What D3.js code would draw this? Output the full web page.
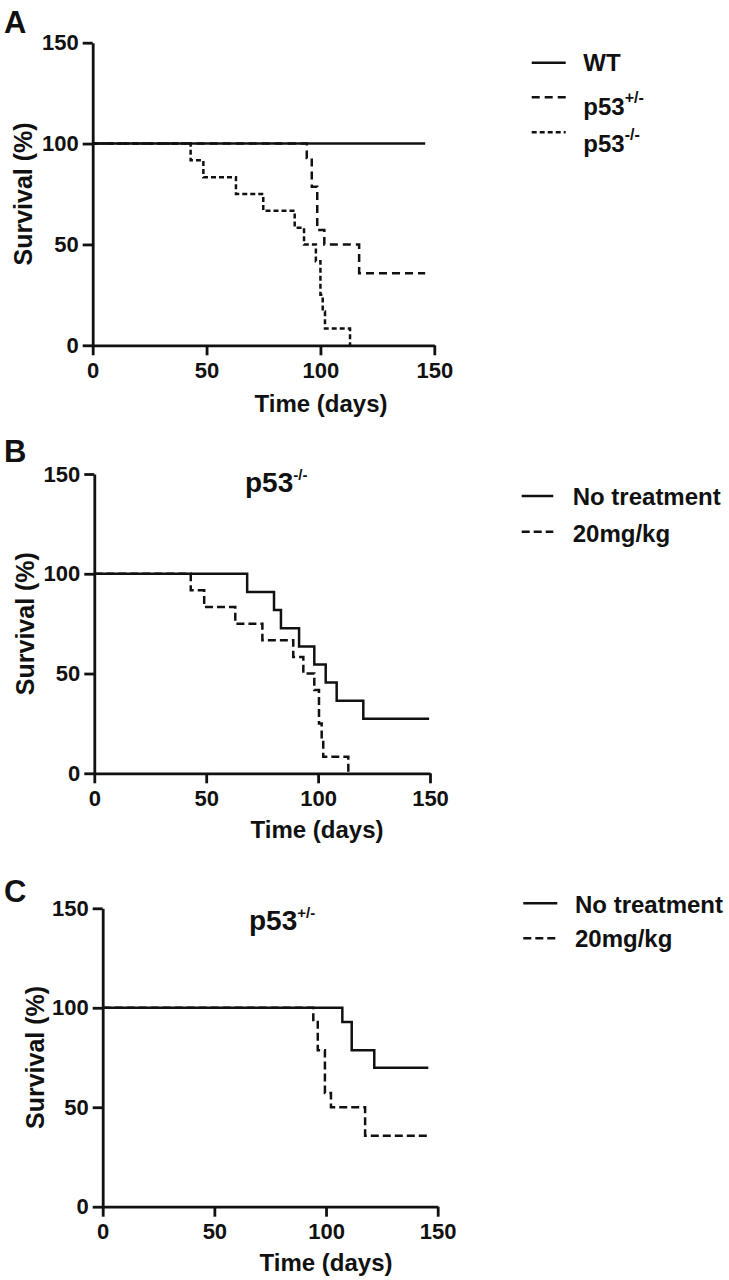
<!DOCTYPE html>
<html>
<head>
<meta charset="utf-8">
<script src="https://cdn.jsdelivr.net/npm/d3@7"></script>
<style>
  body { margin: 0; background: #fff; }
  svg text { font-family: "Liberation Sans", Arial, sans-serif; font-weight: bold; fill: #111; }
</style>
</head>
<body>
<svg id="chart" width="729" height="1280"></svg>
<script>
// ---- data (days, survival %) ----
var xTicks = [0, 50, 100, 150];
var yTicks = [0, 50, 100, 150];

// panel A
var aWtTimes = [0, 146];
var aWtSurv = [100, 100];
var aHetTimes = [0, 94, 96.2, 98.6, 101.7, 117, 146];
var aHetSurv = [100, 92.9, 78.6, 57.1, 50, 35.7, 35.7];
var aKoTimes = [0, 43, 48.6, 62.9, 74.9, 88.7, 92.8, 98, 100, 101, 102, 113];
var aKoSurv = [100, 91.7, 83.3, 75, 66.7, 58.3, 50, 41.7, 25, 16.7, 8.3, 0];

// panel B (p53-/-)
var bCtrlTimes = [0, 68.3, 80.3, 83.4, 91.5, 98.3, 103.4, 108.3, 120.2, 149.6];
var bCtrlSurv = [100, 90.9, 81.8, 72.7, 63.6, 54.5, 45.5, 36.4, 27.3, 27.3];
var bDrugTimes = [0, 43.1, 49.1, 63, 75.1, 88.9, 93.4, 98.3, 100.4, 101.6, 102.3, 113.5];
var bDrugSurv = [100, 91.7, 83.3, 75, 66.7, 58.3, 50, 41.7, 25, 16.7, 8.3, 0];

// panel C (p53+/-)
var cCtrlTimes = [0, 107.3, 111.5, 121.6, 145.8];
var cCtrlSurv = [100, 92.9, 78.6, 69.9, 69.9];
var cDrugTimes = [0, 94.3, 96.3, 99.5, 102.2, 117.5, 145.8];
var cDrugSurv = [100, 92.9, 78.6, 57.1, 50, 35.7, 35.7];

function zipSteps(times, surv) {
  return times.map(function(t, i) { return { t: t, s: surv[i] }; });
}

var panels = [
  {
    letter: "A", letterY: 33,
    x0: 92.7, x1: 434.3, yTop: 42.7, yBot: 345.3,
    yLabelX: 32, xLabelX: 321, xLabelY: 412,
    series: [
      { data: zipSteps(aWtTimes, aWtSurv), dash: null },
      { data: zipSteps(aHetTimes, aHetSurv), dash: "8,5" },
      { data: zipSteps(aKoTimes, aKoSurv), dash: "5,3" }
    ],
    legend: { x1: 531.7, x2: 565.7, tx: 583.3, rows: [
      { y: 62.7, base: 71, text: "WT", dash: null },
      { y: 97.3, base: 115, text: "p53", sup: "+/-", dash: "8,5" },
      { y: 132.3, base: 151.7, text: "p53", sup: "-/-", dash: "5,3" }
    ] }
  },
  {
    letter: "B", letterY: 462,
    x0: 94.3, x1: 430, yTop: 474, yBot: 773.3,
    yLabelX: 34, xLabelX: 317, xLabelY: 838,
    title: { x: 245, y: 491.7, text: "p53", sup: "-/-" },
    series: [
      { data: zipSteps(bCtrlTimes, bCtrlSurv), dash: null },
      { data: zipSteps(bDrugTimes, bDrugSurv), dash: "8,4" }
    ],
    legend: { x1: 521.7, x2: 553.3, tx: 572.7, rows: [
      { y: 496, base: 505, text: "No treatment", dash: null },
      { y: 531.7, base: 541.7, text: "20mg/kg", dash: "8,4" }
    ] }
  },
  {
    letter: "C", letterY: 902,
    x0: 102.7, x1: 437.7, yTop: 908.3, yBot: 1206.7,
    yLabelX: 44, xLabelX: 326, xLabelY: 1271,
    title: { x: 249, y: 930, text: "p53", sup: "+/-" },
    series: [
      { data: zipSteps(cCtrlTimes, cCtrlSurv), dash: null },
      { data: zipSteps(cDrugTimes, cDrugSurv), dash: "8,4" }
    ],
    legend: { x1: 523.3, x2: 557.3, tx: 575, rows: [
      { y: 903.3, base: 913.3, text: "No treatment", dash: null },
      { y: 938.3, base: 947, text: "20mg/kg", dash: "8,4" }
    ] }
  }
];

var svg = d3.select("#chart");

function addSupText(sel, x, y, size, text, sup, supSize, supDy) {
  var t = sel.append("text").attr("x", x).attr("y", y).style("font-size", size + "px");
  t.append("tspan").text(text);
  if (sup) {
    t.append("tspan").attr("dy", -supDy).style("font-size", supSize + "px").text(sup);
  }
  return t;
}

panels.forEach(function(p) {
  var x = d3.scaleLinear().domain([0, 150]).range([p.x0, p.x1]);
  var y = d3.scaleLinear().domain([0, 150]).range([p.yBot, p.yTop]);
  var g = svg.append("g");

  // panel letter
  g.append("text").attr("x", 4).attr("y", p.letterY)
    .style("font-size", "31px").text(p.letter);

  var xAxis = g.append("g")
    .attr("transform", "translate(0," + p.yBot + ")")
    .call(d3.axisBottom(x).tickValues(xTicks).tickSize(10).tickSizeOuter(0).tickPadding(7));
  var yAxis = g.append("g")
    .attr("transform", "translate(" + p.x0 + ",0)")
    .call(d3.axisLeft(y).tickValues(yTicks).tickSize(10).tickSizeOuter(0).tickPadding(4));

  [xAxis, yAxis].forEach(function(a) {
    a.attr("font-family", null).attr("font-size", null);
    a.select(".domain").attr("stroke", "#111").attr("stroke-width", 2.8);
    a.selectAll(".tick line").attr("stroke", "#111").attr("stroke-width", 2.8);
    a.selectAll(".tick text").style("font-size", "22px").attr("fill", "#111");
  });

  // axis titles
  g.append("text")
    .attr("transform", "translate(" + p.yLabelX + "," + ((p.yTop + p.yBot) / 2) + ") rotate(-90)")
    .attr("text-anchor", "middle")
    .style("font-size", "25px")
    .text("Survival (%)");
  g.append("text")
    .attr("x", p.xLabelX).attr("y", p.xLabelY)
    .attr("text-anchor", "middle")
    .style("font-size", "24px")
    .text("Time (days)");

  if (p.title) {
    addSupText(g, p.title.x, p.title.y, 28, p.title.text, p.title.sup, 15, 12);
  }

  var line = d3.line()
    .x(function(d) { return x(d.t); })
    .y(function(d) { return y(d.s); })
    .curve(d3.curveStepAfter);

  // dashed curves first, solid one on top so the shared 100% stretch stays solid
  p.series.slice().reverse().forEach(function(s) {
    g.append("path")
      .datum(s.data)
      .attr("d", line)
      .attr("fill", "none")
      .attr("stroke", "#111")
      .attr("stroke-width", 2.5)
      .attr("stroke-dasharray", s.dash);
  });

  // legend
  p.legend.rows.forEach(function(r) {
    g.append("line")
      .attr("x1", p.legend.x1).attr("x2", p.legend.x2)
      .attr("y1", r.y).attr("y2", r.y)
      .attr("stroke", "#111")
      .attr("stroke-width", 2.4)
      .attr("stroke-dasharray", r.dash);
    addSupText(g, p.legend.tx, r.base, 24, r.text, r.sup, 16, 12);
  });
});
</script>
</body>
</html>
